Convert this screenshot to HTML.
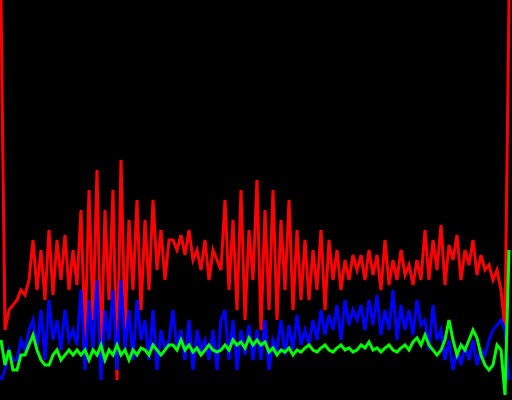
<!DOCTYPE html>
<html><head><meta charset="utf-8"><style>html,body{margin:0;padding:0;background:#000}svg{display:block}</style></head>
<body>
<svg id="chart" width="512" height="400" viewBox="0 0 512 400">
<rect x="0" y="0" width="512" height="400" fill="#000"/>
</svg>
<script>
const redValues=[400,70,90,95,100,110,105,120,160,110,150,100,170,105,160,120,165,110,150,115,190,60,210,80,230,40,190,100,210,20,240,70,180,110,200,90,180,110,200,130,170,120,160,160,150,165,145,170,140,150,130,160,120,150,140,130,200,110,180,90,210,80,170,120,220,70,190,90,210,80,180,110,200,90,170,100,160,100,150,110,170,90,160,120,150,110,140,120,145,130,145,120,150,125,145,110,160,115,140,120,150,125,135,115,140,120,170,120,160,130,175,115,155,140,165,120,150,135,160,125,145,130,135,120,130,110,70,400];
const blueValues=[20,30,50,40,40,60,50,70,80,50,90,40,100,60,80,50,90,60,70,55,110,30,100,50,120,20,90,60,110,30,120,50,90,40,100,60,80,40,90,30,70,50,60,90,50,70,40,80,30,70,50,60,40,70,30,80,90,40,80,30,70,45,75,40,70,40,80,30,60,50,80,45,75,50,85,55,70,55,80,60,90,65,85,70,95,60,100,75,90,80,95,70,100,75,105,65,90,70,110,60,95,70,90,65,100,75,80,50,95,60,70,40,60,30,50,35,55,40,60,35,50,45,60,70,75,80,70,20];
const greenValues=[60,35,50,30,30,45,45,55,65,50,40,35,35,45,50,40,45,50,45,50,45,50,40,50,45,55,40,50,45,55,45,50,40,50,45,52,50,45,55,50,45,50,55,55,50,60,50,55,48,52,45,50,55,50,48,50,55,50,60,55,58,52,62,55,60,55,58,48,52,45,50,48,52,45,50,48,52,55,50,48,52,55,50,48,52,55,50,52,48,50,55,52,58,50,52,48,52,55,50,48,52,55,50,58,62,55,65,55,50,45,50,60,80,60,45,55,50,60,70,62,45,35,30,35,55,50,5,150];
const svg=document.getElementById('chart');
const W=512,H=400,xMax=509;
function yScale(v){return H-v*(H/400);}
function xScale(i,n){return 1+i*(xMax-1)/(n-1);}
function draw(vals,color,name,w){
  const pts=vals.map((v,i)=>xScale(i,vals.length).toFixed(1)+','+yScale(v).toFixed(1)).join(' ');
  const pl=document.createElementNS('http://www.w3.org/2000/svg','polyline');
  pl.setAttribute('points',pts);
  pl.setAttribute('fill','none');
  pl.setAttribute('stroke',color);
  pl.setAttribute('stroke-width',w);
  pl.setAttribute('stroke-linejoin','miter');
  
  
  svg.appendChild(pl);
}
draw(redValues,'#ff0000','red-series','3');
draw(blueValues,'#0000ff','blue-series','3');
draw(greenValues,'#00ff00','green-series','3');
</script>
</body></html>
